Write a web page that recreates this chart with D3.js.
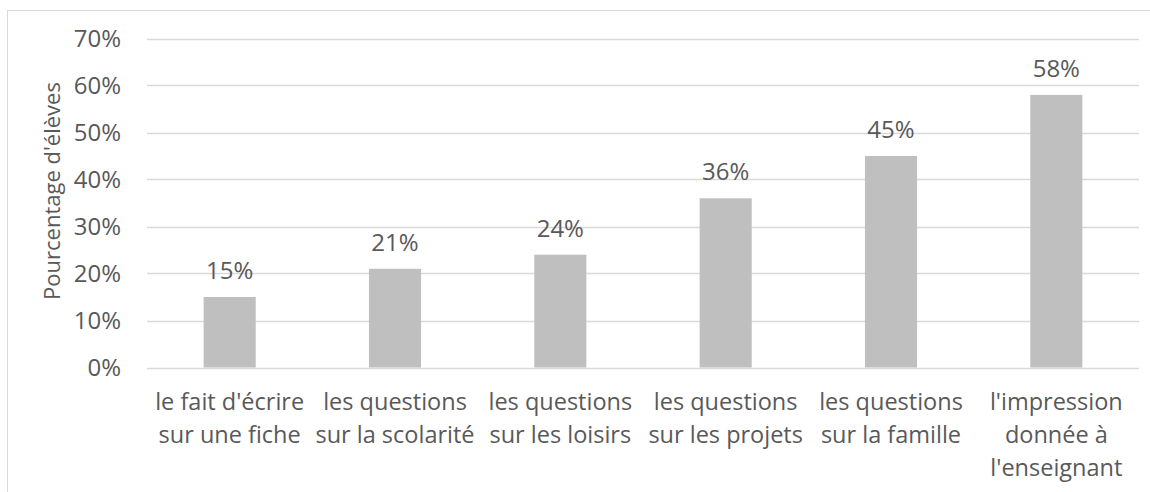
<!DOCTYPE html>
<html lang="fr">
<head>
<meta charset="UTF-8">
<title>Pourcentage d'élèves</title>
<style>
  body { margin: 0; background: #fff; }
  text { font-family: "Open Sans", "Noto Sans", sans-serif; fill: #595959; }
</style>
</head>
<body>
<div id="chart"></div>
<script src="https://d3js.org/d3.v7.min.js"></script>
<script>
// data
var categories = [
  ["le fait d'écrire", "sur une fiche"],
  ["les questions", "sur la scolarité"],
  ["les questions", "sur les loisirs"],
  ["les questions", "sur les projets"],
  ["les questions", "sur la famille"],
  ["l'impression", "donnée à", "l'enseignant"]
];
var values = [0.15, 0.21, 0.24, 0.36, 0.45, 0.58];
var yTicks = [0, 0.1, 0.2, 0.3, 0.4, 0.5, 0.6, 0.7];
var yTitle = "Pourcentage d'élèves";

var width = 1150, height = 492;
var margin = {top: 38.5, right: 11, bottom: 124.5, left: 147};

var svg = d3.select("#chart").append("svg")
    .attr("width", width)
    .attr("height", height);

// chart border (cropped on right/bottom)
svg.append("rect")
    .attr("x", 7.5).attr("y", 10.5)
    .attr("width", 1200).attr("height", 600)
    .attr("fill", "none")
    .attr("stroke", "#d9d9d9");

var x = d3.scaleBand()
    .domain(d3.range(categories.length))
    .range([margin.left, width - margin.right])
    .paddingInner(0.685)
    .paddingOuter(0.3425);

var y = d3.scaleLinear()
    .domain([0, 0.7])
    .range([height - margin.bottom, margin.top]);

// gridlines
svg.append("g")
  .selectAll("line")
  .data(yTicks)
  .enter().append("line")
    .attr("x1", margin.left)
    .attr("x2", width - margin.right)
    .attr("y1", function(d) { return Math.round(y(d)) + 0.5; })
    .attr("y2", function(d) { return Math.round(y(d)) + 0.5; })
    .attr("stroke", "#d9d9d9")
    .attr("stroke-width", 1.3);

// y axis labels
var yAxis = svg.append("g")
    .attr("transform", "translate(" + margin.left + ",0)")
    .call(d3.axisLeft(y).tickValues(yTicks).tickFormat(d3.format(".0%")).tickSize(0).tickPadding(26));
yAxis.select(".domain").remove();
yAxis.selectAll("text")
    .style("font-size", "24px")
    .attr("fill", "#595959")
    .attr("dy", "0.35em");

// y title
svg.append("text")
    .attr("transform", "translate(60," + 191 + ") rotate(-90)")
    .attr("text-anchor", "middle")
    .style("font-size", "22px")
    .text(yTitle);

// bars
svg.append("g")
  .selectAll("rect")
  .data(values)
  .enter().append("rect")
    .attr("x", function(d, i) { return x(i); })
    .attr("y", function(d) { return y(d); })
    .attr("width", x.bandwidth())
    .attr("height", function(d) { return y(0) - y(d); })
    .attr("fill", "#bfbfbf");

// value labels
svg.append("g")
  .selectAll("text")
  .data(values)
  .enter().append("text")
    .attr("x", function(d, i) { return x(i) + x.bandwidth() / 2; })
    .attr("y", function(d) { return y(d) - 18; })
    .attr("text-anchor", "middle")
    .style("font-size", "24px")
    .text(function(d) { return Math.round(d * 100) + "%"; });

// category labels
var cat = svg.append("g")
  .selectAll("text")
  .data(categories)
  .enter().append("text")
    .attr("x", function(d, i) { return x(i) + x.bandwidth() / 2; })
    .attr("y", 410)
    .attr("text-anchor", "middle")
    .style("font-size", "23.5px");
cat.selectAll("tspan")
  .data(function(d) { return d; })
  .enter().append("tspan")
    .attr("x", function() { return d3.select(this.parentNode).attr("x"); })
    .attr("dy", function(d, i) { return i === 0 ? 0 : 33; })
    .text(function(d) { return d; });
</script>
</body>
</html>
